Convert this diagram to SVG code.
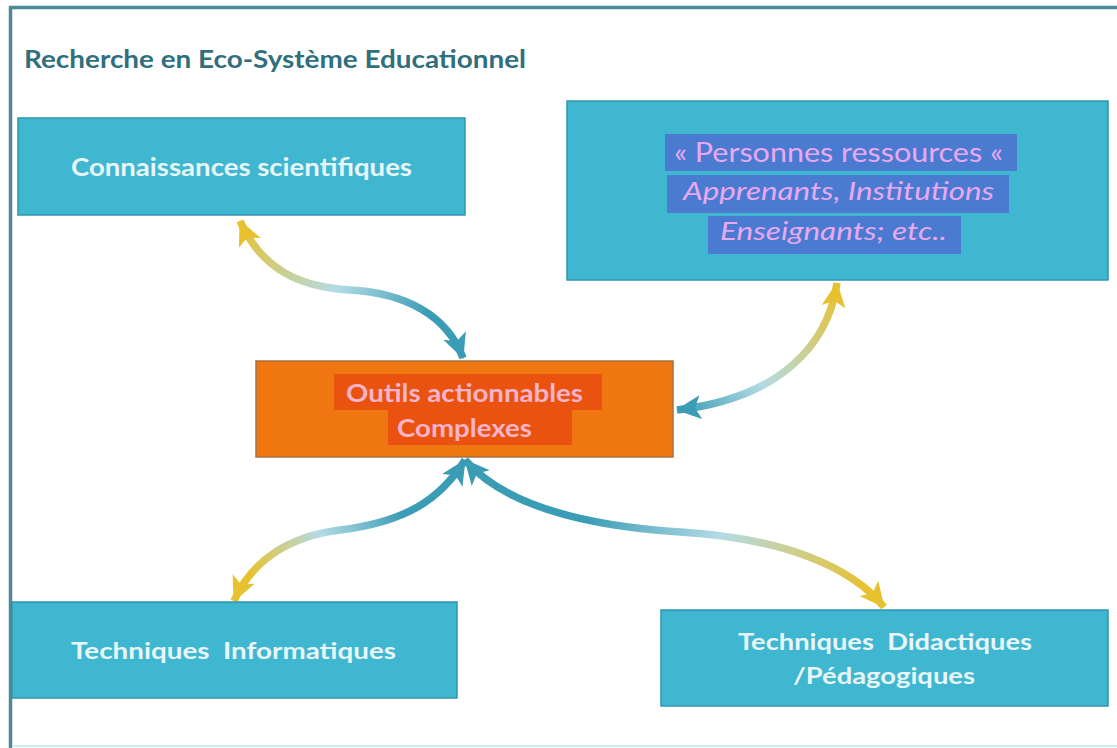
<svg xmlns="http://www.w3.org/2000/svg" width="1117" height="748" viewBox="0 0 1117 748">
<style>
.box{fill:#3fb7d1;stroke:#2f96ad;stroke-width:1.5}
.lbl{font-family:Lato,"Open Sans","Liberation Sans",sans-serif;font-weight:bold;fill:#e8f6f9}
.conn{fill:none;stroke-width:7.5;stroke-linecap:butt}
.pers{font-family:Lato,"Open Sans","Liberation Sans",sans-serif;font-size:26px;fill:#e9a9f2}
.band{fill:#4b7ad1}
.oband{fill:#e9530f}
</style>
<defs>
<marker id="mY" viewBox="0 0 26 26" refX="24" refY="13" markerWidth="26" markerHeight="26" markerUnits="userSpaceOnUse" orient="auto-start-reverse"><path d="M0,1 L25,13 L0,25 L6,13 Z" fill="#e8c12e"/></marker>
<marker id="mT" viewBox="0 0 26 26" refX="24" refY="13" markerWidth="26" markerHeight="26" markerUnits="userSpaceOnUse" orient="auto-start-reverse"><path d="M0,1 L25,13 L0,25 L6,13 Z" fill="#3a9cb5"/></marker>
<linearGradient id="g1" gradientUnits="userSpaceOnUse" x1="240" y1="222" x2="463" y2="356"><stop offset="0" stop-color="#e8c12e"/><stop offset="0.45" stop-color="#b3dbe5"/><stop offset="0.8" stop-color="#3a9cb5"/></linearGradient>
<linearGradient id="g2" gradientUnits="userSpaceOnUse" x1="837" y1="284" x2="678" y2="410"><stop offset="0" stop-color="#e8c12e"/><stop offset="0.6" stop-color="#b3dbe5"/><stop offset="1" stop-color="#3a9cb5"/></linearGradient>
<linearGradient id="g3" gradientUnits="userSpaceOnUse" x1="234" y1="600" x2="465" y2="460"><stop offset="0.1" stop-color="#e8c12e"/><stop offset="0.4" stop-color="#b3dbe5"/><stop offset="0.7" stop-color="#3a9cb5"/></linearGradient>
<linearGradient id="g4" gradientUnits="userSpaceOnUse" x1="884" y1="606" x2="465" y2="460"><stop offset="0.05" stop-color="#e8c12e"/><stop offset="0.4" stop-color="#b3dbe5"/><stop offset="0.7" stop-color="#3a9cb5"/></linearGradient>
</defs>
<rect width="1117" height="748" fill="#ffffff"/>
<g id="frame">
<line x1="9" y1="7.5" x2="1117" y2="7.5" stroke="#4d8a99" stroke-width="3.5"/>
<line x1="10.5" y1="6" x2="10.5" y2="748" stroke="#4d8a99" stroke-width="3.5"/>
<line x1="12" y1="746" x2="1117" y2="746" stroke="#c9eef5" stroke-width="2"/>
<text x="24" y="68" font-family="Lato,'Open Sans','Liberation Sans',sans-serif" font-weight="bold" font-size="25" fill="#2f6f7e" textLength="502" lengthAdjust="spacingAndGlyphs">Recherche en Eco-Système Educationnel</text>
</g>
<g id="connectors">
<path class="conn" stroke="url(#g1)" d="M240 221 C262 270, 300 287, 350 290 C405 293, 447 315, 463 358" marker-start="url(#mY)" marker-end="url(#mT)"/>
<path class="conn" stroke="url(#g2)" d="M837 283 C828 345, 780 398, 677 410" marker-start="url(#mY)" marker-end="url(#mT)"/>
<path class="conn" stroke="url(#g3)" d="M465 460 C440 500, 405 522, 340 530 C290 536, 252 560, 234 601" marker-start="url(#mT)" marker-end="url(#mY)"/>
<path class="conn" stroke="url(#g4)" d="M465 460 C500 500, 570 525, 680 532 C780 538, 850 565, 884 607" marker-start="url(#mT)" marker-end="url(#mY)"/>
</g>
<g id="node-connaissances">
<rect class="box" x="18" y="118" width="447" height="97"/>
<text class="lbl" x="71" y="176" font-size="24" textLength="341" lengthAdjust="spacingAndGlyphs">Connaissances scientifiques</text>
</g>
<g id="node-personnes">
<rect class="box" x="567" y="101" width="541" height="179"/>
<rect class="band" x="665" y="134" width="352" height="37"/>
<rect class="band" x="667" y="175" width="342" height="38"/>
<rect class="band" x="708" y="216" width="253" height="38"/>
<text class="pers" x="674" y="162" textLength="329" lengthAdjust="spacingAndGlyphs">« Personnes ressources «</text>
<text class="pers" x="683" y="200" font-style="italic" textLength="311" lengthAdjust="spacingAndGlyphs">Apprenants, Institutions</text>
<text class="pers" x="720" y="240" font-style="italic" textLength="227" lengthAdjust="spacingAndGlyphs">Enseignants; etc..</text>
</g>
<g id="node-outils">
<rect x="256" y="361" width="417" height="96" fill="#f07611" stroke="#a9703f" stroke-width="1.5"/>
<rect class="oband" x="334" y="374" width="268" height="36"/>
<rect class="oband" x="388" y="410" width="184" height="35"/>
<text x="346" y="402" font-family="Lato,'Open Sans','Liberation Sans',sans-serif" font-weight="bold" font-size="24" fill="#f9b3cb" textLength="237" lengthAdjust="spacingAndGlyphs">Outils actionnables</text>
<text x="397" y="437" font-family="Lato,'Open Sans','Liberation Sans',sans-serif" font-weight="bold" font-size="24" fill="#f9b3cb" textLength="135" lengthAdjust="spacingAndGlyphs">Complexes</text>
</g>
<g id="node-informatiques">
<rect class="box" x="12" y="602" width="445" height="96"/>
<text class="lbl" x="71" y="659" font-size="23" xml:space="preserve" textLength="325" lengthAdjust="spacingAndGlyphs">Techniques  Informatiques</text>
</g>
<g id="node-didactiques">
<rect class="box" x="661" y="610" width="447" height="96"/>
<text class="lbl" x="738" y="650" font-size="23" xml:space="preserve" textLength="294" lengthAdjust="spacingAndGlyphs">Techniques  Didactiques</text>
<text class="lbl" x="793" y="684" font-size="23" textLength="182" lengthAdjust="spacingAndGlyphs">/Pédagogiques</text>
</g>
</svg>
